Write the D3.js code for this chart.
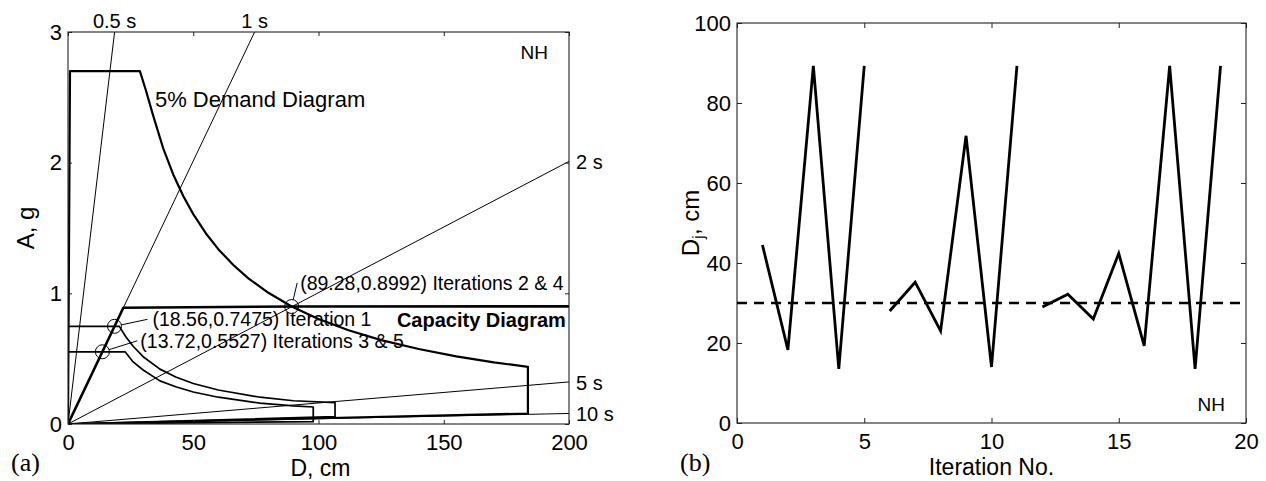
<!DOCTYPE html>
<html>
<head>
<meta charset="utf-8">
<title>Capacity spectrum iterations</title>
<script src="https://cdn.jsdelivr.net/npm/d3@7"></script>
<style>
    body { margin: 0; background: #fff; }
    svg { display: block; }
    text { font-family: "Liberation Sans", Arial, Helvetica, sans-serif; fill: #000; }
    .serif { font-family: "Liberation Serif", "Times New Roman", serif; }
</style>
</head>
<body>
<svg id="chart" width="1266" height="481"></svg>
<script>
/**
 * Capacity spectrum method - (a) ADRS diagram, (b) displacement per iteration
 */

// ---- panel (a) data: [D (cm), A (g)] ----
var demand5 = [
    [0, 0], [0.8, 2.7], [28.7, 2.7], [31, 2.56], [34, 2.36], [38, 2.11], [42, 1.91],
    [46, 1.745], [50, 1.606], [55, 1.46], [60, 1.338], [66, 1.217], [72, 1.115],
    [80, 1.004], [89.28, 0.8992], [100, 0.803], [112, 0.717], [125, 0.642],
    [140, 0.574], [155, 0.518], [170, 0.472], [183.6, 0.437], [183.6, 0.08], [0, 0]
];
var capacity = [[0, 0], [22.1, 0.89], [89.28, 0.8992], [200, 0.9]];
var demandIter1 = [
    [0, 0.7475], [20.5, 0.7475], [23, 0.67], [26, 0.595], [30, 0.515], [36.7, 0.42],
    [43, 0.36], [50, 0.31], [60, 0.26], [76.6, 0.205], [90, 0.178], [106.6, 0.163],
    [106.6, 0.056], [0, 0]
];
var demandIter3 = [
    [0, 0.5527], [22.8, 0.5527], [26, 0.475], [30, 0.413], [36.7, 0.33], [43, 0.285],
    [50, 0.245], [60, 0.205], [76.6, 0.16], [90, 0.138], [97.9, 0.13],
    [97.9, 0.018], [0, 0]
];
var periodLabels = ["0.5 s", "1 s", "2 s", "5 s", "10 s"];
var periodEndD = [18.6, 74.5, 200, 200, 200];
var periodEndA = [3, 3, 2.01, 0.322, 0.0805];
var pointLabels = ["(89.28,0.8992) Iterations 2 & 4", "(18.56,0.7475) Iteration 1", "(13.72,0.5527) Iterations 3 & 5"];
var pointD = [89.28, 18.56, 13.72];
var pointA = [0.8992, 0.7475, 0.5527];
var xTicksA = [0, 50, 100, 150, 200];
var yTicksA = [0, 1, 2, 3];

// ---- panel (b) data ----
var iterationNo = [1, 2, 3, 4, 5, 6, 7, 8, 9, 10, 11, 12, 13, 14, 15, 16, 17, 18, 19];
var dispDj = [44.5, 18.3, 89.3, 13.5, 89.3, 28, 35.2, 23, 71.8, 14, 89.3, 29, 32.2, 26, 42.4, 19.3, 89.3, 13.5, 89.3];
var segmentStarts = [1, 6, 12];   // line is broken before these iterations
var targetDj = 30;
var xTicksB = [0, 5, 10, 15, 20];
var yTicksB = [0, 20, 40, 60, 80, 100];

(function () {

    var svg = d3.select("#chart");
    var fmt = d3.format("d");

    // draws box, inward ticks on all four sides, and labels on left/bottom
    function frame(g, x, y, xTicks, yTicks, tickLen) {
        var w = x.range()[1], h = y.range()[0];

        g.append("g")
            .attr("transform", "translate(0," + h + ")")
            .call(d3.axisBottom(x).tickValues(xTicks).tickFormat(fmt).tickSizeInner(-tickLen).tickSizeOuter(0).tickPadding(10))
            .call(function (a) { a.select(".domain").remove(); });
        g.append("g")
            .call(d3.axisTop(x).tickValues(xTicks).tickSizeInner(-tickLen).tickSizeOuter(0).tickFormat(""))
            .call(function (a) { a.select(".domain").remove(); });
        g.append("g")
            .call(d3.axisLeft(y).tickValues(yTicks).tickFormat(fmt).tickSizeInner(-tickLen).tickSizeOuter(0).tickPadding(6))
            .call(function (a) { a.select(".domain").remove(); });
        g.append("g")
            .attr("transform", "translate(" + w + ",0)")
            .call(d3.axisRight(y).tickValues(yTicks).tickSizeInner(-tickLen).tickSizeOuter(0).tickFormat(""))
            .call(function (a) { a.select(".domain").remove(); });

        g.selectAll(".tick text")
            .style("font-family", "\"Liberation Sans\", Arial, sans-serif")
            .style("font-size", "22px")
            .attr("fill", "#000");
        g.selectAll(".tick line").attr("stroke", "#222");

        g.append("rect")
            .attr("width", w).attr("height", h)
            .attr("fill", "none").attr("stroke", "#222").attr("stroke-width", 1.1);
    }

    // ================= panel (a) =================
    var aLeft = 68, aTop = 32, aW = 501, aH = 392;
    var ga = svg.append("g").attr("transform", "translate(" + aLeft + "," + aTop + ")");
    var xa = d3.scaleLinear().domain([0, 200]).range([0, aW]);
    var ya = d3.scaleLinear().domain([0, 3]).range([aH, 0]);

    ga.append("clipPath").attr("id", "clipA")
        .append("rect").attr("width", aW).attr("height", aH);

    var plotA = ga.append("g").attr("clip-path", "url(#clipA)");
    var lineA = d3.line().x(function (d) { return xa(d[0]); }).y(function (d) { return ya(d[1]); });

    // constant period lines from origin
    periodLabels.forEach(function (lab, i) {
        plotA.append("path")
            .attr("d", lineA([[0, 0], [periodEndD[i], periodEndA[i]]]))
            .attr("fill", "none").attr("stroke", "#000").attr("stroke-width", 1);
    });

    plotA.append("path").attr("d", lineA(demandIter3))
        .attr("fill", "none").attr("stroke", "#000").attr("stroke-width", 1.7).attr("stroke-linejoin", "round");
    plotA.append("path").attr("d", lineA(demandIter1))
        .attr("fill", "none").attr("stroke", "#000").attr("stroke-width", 1.7).attr("stroke-linejoin", "round");
    plotA.append("path").attr("d", lineA(demand5))
        .attr("fill", "none").attr("stroke", "#000").attr("stroke-width", 2.2).attr("stroke-linejoin", "round");
    plotA.append("path").attr("d", lineA(capacity))
        .attr("fill", "none").attr("stroke", "#000").attr("stroke-width", 2.6).attr("stroke-linejoin", "round");

    frame(ga, xa, ya, xTicksA, yTicksA, 4);

    // period labels - on top edge or right edge
    periodLabels.forEach(function (lab, i) {
        var t = ga.append("text").text(lab).style("font-size", "20px");
        if (periodEndA[i] >= 3) {
            t.attr("x", xa(periodEndD[i])).attr("y", -4).attr("text-anchor", "middle");
        } else {
            t.attr("x", aW + 7).attr("y", ya(periodEndA[i])).attr("dy", "0.38em");
        }
    });

    // performance points with leader lines
    var leaderOff = [[5.5, -23.5], [33, -7], [35, -11]];
    var textOff = [[8.5, -23.5], [38, -7], [38, -11]];
    var r = 7;
    pointLabels.forEach(function (lab, i) {
        var cx = xa(pointD[i]), cy = ya(pointA[i]);
        var lx = cx + leaderOff[i][0], ly = cy + leaderOff[i][1];
        var len = Math.sqrt((lx - cx) * (lx - cx) + (ly - cy) * (ly - cy));
        ga.append("circle").attr("cx", cx).attr("cy", cy).attr("r", r)
            .attr("fill", "none").attr("stroke", "#000").attr("stroke-width", 1);
        ga.append("line")
            .attr("x1", cx + (lx - cx) * r / len).attr("y1", cy + (ly - cy) * r / len)
            .attr("x2", lx).attr("y2", ly)
            .attr("stroke", "#000").attr("stroke-width", 1);
        ga.append("text").text(lab)
            .attr("x", cx + textOff[i][0]).attr("y", cy + textOff[i][1]).attr("dy", "0.35em")
            .style("font-size", "19.5px");
    });

    ga.append("text").text("5% Demand Diagram")
        .attr("x", xa(34.7)).attr("y", ya(2.487)).attr("dy", "0.36em")
        .style("font-size", "22px");
    ga.append("text").text("Capacity Diagram")
        .attr("x", xa(131.3)).attr("y", ya(0.796)).attr("dy", "0.36em")
        .style("font-size", "20px").style("font-weight", "bold");
    ga.append("text").text("NH")
        .attr("x", aW - 21).attr("y", 20).attr("dy", "0.36em").attr("text-anchor", "end")
        .style("font-size", "19px");

    ga.append("text").text("D, cm")
        .attr("x", aW / 2 + 2).attr("y", aH + 52).attr("text-anchor", "middle")
        .style("font-size", "23px");
    ga.append("text").text("A, g")
        .attr("transform", "translate(" + (-34) + "," + (aH / 2) + ") rotate(-90)")
        .attr("text-anchor", "middle")
        .style("font-size", "24px");
    svg.append("text").attr("class", "serif").text("(a)")
        .attr("x", 11).attr("y", 471)
        .style("font-size", "26px");

    // ================= panel (b) =================
    var bLeft = 737, bTop = 23, bW = 509, bH = 400;
    var gb = svg.append("g").attr("transform", "translate(" + bLeft + "," + bTop + ")");
    var xb = d3.scaleLinear().domain([0, 20]).range([0, bW]);
    var yb = d3.scaleLinear().domain([0, 100]).range([bH, 0]);

    frame(gb, xb, yb, xTicksB, yTicksB, 5);

    gb.append("line")
        .attr("x1", xb(0)).attr("x2", xb(20))
        .attr("y1", yb(targetDj)).attr("y2", yb(targetDj))
        .attr("stroke", "#000").attr("stroke-width", 2.4).attr("stroke-dasharray", "10,7");

    // split into runs; the series is broken between runs
    var points = iterationNo.map(function (n, i) {
        var seg = d3.bisectRight(segmentStarts, n) - 1;
        return { n: n, d: dispDj[i], seg: seg };
    });
    var runs = d3.groups(points, function (p) { return p.seg; });
    var lineB = d3.line()
        .x(function (p) { return xb(p.n); })
        .y(function (p) { return yb(p.d); });

    gb.selectAll("path.run")
        .data(runs)
        .enter().append("path")
        .attr("class", "run")
        .attr("d", function (r) { return lineB(r[1]); })
        .attr("fill", "none").attr("stroke", "#000").attr("stroke-width", 2.8)
        .attr("stroke-linejoin", "miter");

    gb.append("text").text("NH")
        .attr("x", bW - 21).attr("y", 381).attr("dy", "0.36em").attr("text-anchor", "end")
        .style("font-size", "19px");

    gb.append("text").text("Iteration No.")
        .attr("x", bW / 2).attr("y", bH + 52).attr("text-anchor", "middle")
        .style("font-size", "23px");
    var yl = gb.append("text")
        .attr("transform", "translate(" + (-38) + "," + (bH / 2) + ") rotate(-90)")
        .attr("text-anchor", "middle")
        .style("font-size", "24px");
    yl.append("tspan").text("D");
    yl.append("tspan").text("j").attr("dy", "0.3em").style("font-size", "17px");
    yl.append("tspan").text(", cm").attr("dy", "-0.21em");
    svg.append("text").attr("class", "serif").text("(b)")
        .attr("x", 680).attr("y", 471)
        .style("font-size", "26px");

})();
</script>
</body>
</html>
